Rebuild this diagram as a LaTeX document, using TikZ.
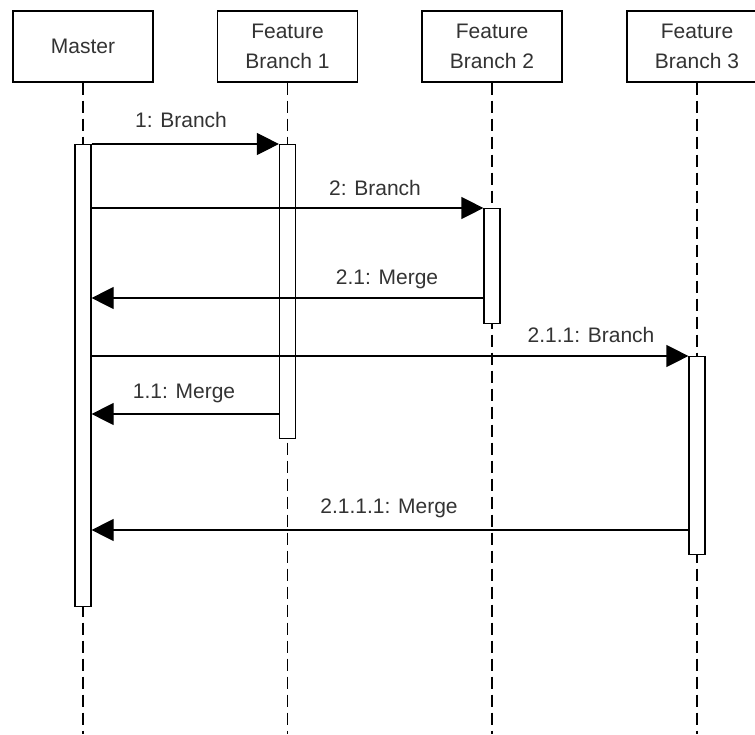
\documentclass[tikz,border=0pt]{standalone}
\usepackage{fontspec}
\setmainfont{Liberation Sans}
\usetikzlibrary{arrows.meta}
\begin{document}
\begin{tikzpicture}[x=1pt,y=-1pt,
  head/.style={draw=black, line width=1.2pt, fill=white, minimum width=140pt, minimum height=71pt, align=center, font=\fontsize{21}{30}\selectfont, text=black!80, inner sep=0pt},
  life/.style={draw=black, line width=1.2pt, dash pattern=on 12pt off 6pt},
  actbar/.style={draw=black, line width=1.2pt, fill=white, minimum width=16pt, inner sep=0pt, anchor=north},
  msg/.style={draw=black, line width=1.2pt, -{Triangle[length=22pt,width=22pt]}},
  lbl/.style={font=\fontsize{21}{25}\selectfont, text=black!80, anchor=base, inner sep=0pt}
]
\useasboundingbox (0,0) rectangle (755,734);
% headers
\node[head] (m)  at (83,46.5)    {Master};
\node[head] (f1) at (287.5,46.5) {Feature\\Branch 1};
\node[head] (f2) at (492,46.5)   {Feature\\Branch 2};
\node[head] (f3) at (697,46.5)   {Feature\\Branch 3};
% lifeline ends
\coordinate (bot) at (0,734);
\draw[life] (m.south)  -- (m.south |- bot);
\draw[life] (f1.south) -- (f1.south |- bot);
\draw[life] (f2.south) -- (f2.south |- bot);
\draw[life] (f3.south) -- (f3.south |- bot);
% activation bars
\node[actbar, minimum height=462pt] (mb) at (83,144) {};
\node[actbar, minimum height=294pt] (b1) at (287.5,144) {};
\node[actbar, minimum height=115pt] (b2) at (492,208) {};
\node[actbar, minimum height=198pt] (b3) at (697,356) {};
% message heights
\coordinate (r21)   at (0,298);
\coordinate (r11)   at (0,414);
\coordinate (r2111) at (0,530);
% messages
\draw[msg] (mb.north east) -- (b1.north west);
\draw[msg] (mb.east |- b2.north) -- (b2.north west);
\draw[msg] (b2.west |- r21) -- (mb.east |- r21);
\draw[msg] (mb.east |- b3.north) -- (b3.north west);
\draw[msg] (b1.west |- r11) -- (mb.east |- r11);
\draw[msg] (b3.west |- r2111) -- (mb.east |- r2111);
% labels
\node[lbl] (l1)    at (181,127) {1: Branch};
\node[lbl] (l2)    at (375,195) {2: Branch};
\node[lbl] (l21)   at (387,284) {2.1: Merge};
\node[lbl] (l211)  at (591,342) {2.1.1: Branch};
\node[lbl] (l11)   at (184,398) {1.1: Merge};
\node[lbl] (l2111) at (389,513) {2.1.1.1: Merge};
\end{tikzpicture}
\end{document}
